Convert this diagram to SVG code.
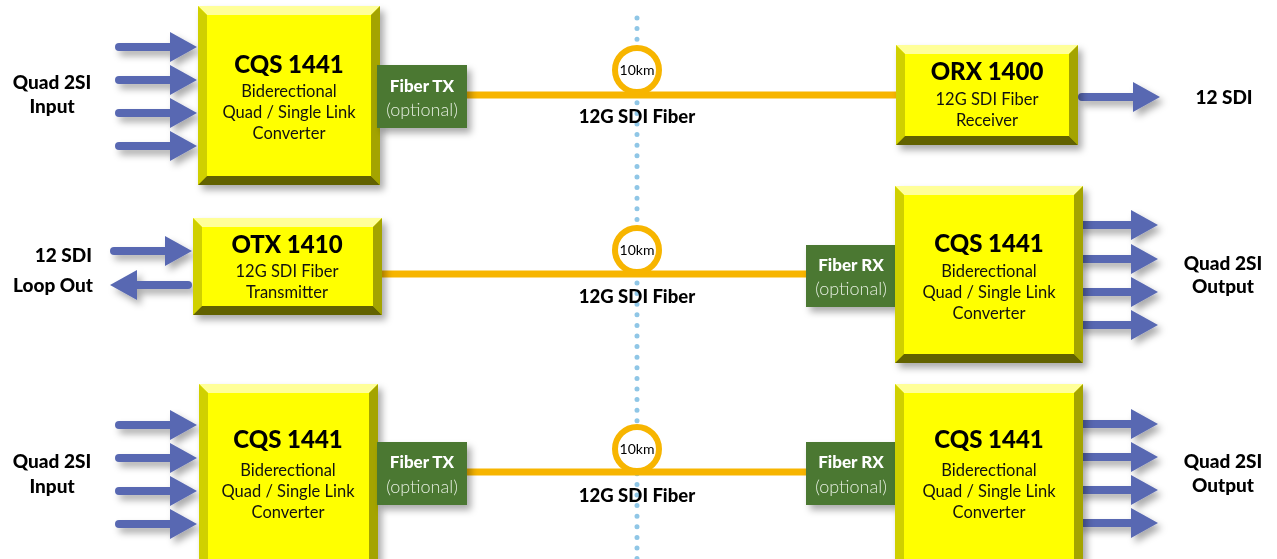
<svg xmlns="http://www.w3.org/2000/svg" xmlns:xlink="http://www.w3.org/1999/xlink" width="1277" height="559" viewBox="0 0 1277 559">
<style>
.title{font-family:Lato,"Liberation Sans",sans-serif;font-weight:900;font-size:24px;fill:#000;text-anchor:middle}
.sub{font-family:Lato,"Liberation Sans",sans-serif;font-size:16.5px;fill:#111;text-anchor:middle}
.gt{font-family:Lato,"Liberation Sans",sans-serif;font-weight:900;font-size:17px;fill:#fff;text-anchor:middle}
.go{font-family:Lato,"Liberation Sans",sans-serif;font-weight:300;font-size:18px;fill:#e6eee0;text-anchor:middle}
.lbl{font-family:Lato,"Liberation Sans",sans-serif;font-weight:900;font-size:19px;fill:#000;text-anchor:middle}
.lblr{font-family:Lato,"Liberation Sans",sans-serif;font-weight:900;font-size:19px;fill:#000;text-anchor:end}
.fib{font-family:Lato,"Liberation Sans",sans-serif;font-weight:900;font-size:18.5px;fill:#000;text-anchor:middle}
.km{font-family:Lato,"Liberation Sans",sans-serif;font-size:14px;fill:#000;text-anchor:middle}
.fiber{stroke:#f7b500;stroke-width:7;fill:none}
.ring{stroke:#f7b500;stroke-width:6;fill:#fff}
.green{fill:#4b7832}
.bc{fill:#ffff00}
.bt{fill:#ffff99}
.bl{fill:#d0d000}
.br{fill:#a4a400}
.bb{fill:#626200}
</style>
<defs>
<filter id="sh" x="-20%" y="-20%" width="140%" height="140%">
<feDropShadow dx="4" dy="5" stdDeviation="3.5" flood-color="#000" flood-opacity="0.33"/>
</filter>
<g id="arr">
<line x1="4" y1="0" x2="58" y2="0" stroke="#5868b2" stroke-width="8" stroke-linecap="round"/>
<polygon points="55,-15 82,0 55,15" fill="#5868b2"/>
</g>
</defs>

<!-- dotted divider -->
<line x1="637" y1="18" x2="637" y2="559" stroke="#8fc6e6" stroke-width="5" stroke-linecap="round" stroke-dasharray="0 10.6"/>

<g id="connectors">
<line class="fiber" x1="467" y1="95" x2="898" y2="95"/>
<line class="fiber" x1="382" y1="274" x2="808" y2="274"/>
<line class="fiber" x1="467" y1="472" x2="808" y2="472"/>
<g filter="url(#sh)">
<use xlink:href="#arr" transform="translate(115,47)"/>
<use xlink:href="#arr" transform="translate(115,80)"/>
<use xlink:href="#arr" transform="translate(115,113)"/>
<use xlink:href="#arr" transform="translate(115,146)"/>
<use xlink:href="#arr" transform="translate(1078,97)"/>
<use xlink:href="#arr" transform="translate(110,251)"/>
<use xlink:href="#arr" transform="translate(192,285) scale(-1,1)"/>
<use xlink:href="#arr" transform="translate(1076,225)"/>
<use xlink:href="#arr" transform="translate(1076,259)"/>
<use xlink:href="#arr" transform="translate(1076,292)"/>
<use xlink:href="#arr" transform="translate(1076,325)"/>
<use xlink:href="#arr" transform="translate(115,425)"/>
<use xlink:href="#arr" transform="translate(115,458)"/>
<use xlink:href="#arr" transform="translate(115,491)"/>
<use xlink:href="#arr" transform="translate(115,524)"/>
<use xlink:href="#arr" transform="translate(1076,424)"/>
<use xlink:href="#arr" transform="translate(1076,457)"/>
<use xlink:href="#arr" transform="translate(1076,490)"/>
<use xlink:href="#arr" transform="translate(1076,523)"/>
</g>
</g>

<g id="ring1"><circle class="ring" cx="637" cy="70" r="22"/><text class="km" x="637" y="75">10km</text></g>
<g id="ring2"><circle class="ring" cx="637" cy="250" r="22"/><text class="km" x="637" y="255">10km</text></g>
<g id="ring3"><circle class="ring" cx="637" cy="449" r="22"/><text class="km" x="637" y="454">10km</text></g>

<text class="fib" x="637" y="123">12G SDI Fiber</text>
<text class="fib" x="637" y="303">12G SDI Fiber</text>
<text class="fib" x="637" y="502">12G SDI Fiber</text>

<!-- Row 1 -->
<g id="in1">
<text class="lbl" x="52" y="89">Quad 2SI</text>
<text class="lbl" x="52" y="113">Input</text>
</g>
<g id="cqs1">
<g filter="url(#sh)">
<rect class="bc" x="198" y="6" width="182" height="179"/>
</g>
<polygon class="bt" points="198,6 380,6 371,15 207,15"/>
<polygon class="bl" points="198,6 207,15 207,176 198,185"/>
<polygon class="br" points="380,6 380,185 371,176 371,15"/>
<polygon class="bb" points="198,185 207,176 371,176 380,185"/>
<text class="title" x="289" y="73">CQS 1441</text>
<text class="sub" x="289" y="97">Biderectional</text>
<text class="sub" x="289" y="118">Quad / Single Link</text>
<text class="sub" x="289" y="139">Converter</text>
</g>
<g id="tx1">
<rect class="green" x="377" y="65" width="90" height="63" filter="url(#sh)"/>
<text class="gt" x="422" y="92">Fiber TX</text>
<text class="go" x="422" y="116">(optional)</text>
</g>
<g id="orx">
<g filter="url(#sh)">
<rect class="bc" x="896" y="45" width="182" height="100"/>
</g>
<polygon class="bt" points="896,45 1078,45 1069,54 905,54"/>
<polygon class="bl" points="896,45 905,54 905,136 896,145"/>
<polygon class="br" points="1078,45 1078,145 1069,136 1069,54"/>
<polygon class="bb" points="896,145 905,136 1069,136 1078,145"/>
<text class="title" x="987" y="80">ORX 1400</text>
<text class="sub" x="987" y="105">12G SDI Fiber</text>
<text class="sub" x="987" y="126">Receiver</text>
</g>
<g id="out1">
<text class="lbl" x="1224" y="104">12 SDI</text>
</g>

<!-- Row 2 -->
<g id="in2">
<text class="lblr" x="92" y="262">12 SDI</text>
<text class="lblr" x="93" y="292">Loop Out</text>
</g>
<g id="otx">
<g filter="url(#sh)">
<rect class="bc" x="193" y="218" width="189" height="97"/>
</g>
<polygon class="bt" points="193,218 382,218 373,227 202,227"/>
<polygon class="bl" points="193,218 202,227 202,306 193,315"/>
<polygon class="br" points="382,218 382,315 373,306 373,227"/>
<polygon class="bb" points="193,315 202,306 373,306 382,315"/>
<text class="title" x="287" y="253">OTX 1410</text>
<text class="sub" x="287" y="277">12G SDI Fiber</text>
<text class="sub" x="287" y="298">Transmitter</text>
</g>
<g id="rx2">
<rect class="green" x="806" y="245" width="90" height="62" filter="url(#sh)"/>
<text class="gt" x="851" y="271">Fiber RX</text>
<text class="go" x="851" y="295">(optional)</text>
</g>
<g id="cqs2">
<g filter="url(#sh)">
<rect class="bc" x="895" y="186" width="188" height="177"/>
</g>
<polygon class="bt" points="895,186 1083,186 1074,195 904,195"/>
<polygon class="bl" points="895,186 904,195 904,354 895,363"/>
<polygon class="br" points="1083,186 1083,363 1074,354 1074,195"/>
<polygon class="bb" points="895,363 904,354 1074,354 1083,363"/>
<text class="title" x="989" y="252">CQS 1441</text>
<text class="sub" x="989" y="277">Biderectional</text>
<text class="sub" x="989" y="298">Quad / Single Link</text>
<text class="sub" x="989" y="319">Converter</text>
</g>
<g id="out2">
<text class="lbl" x="1223" y="270">Quad 2SI</text>
<text class="lbl" x="1223" y="293">Output</text>
</g>

<!-- Row 3 -->
<g id="in3">
<text class="lbl" x="52" y="468">Quad 2SI</text>
<text class="lbl" x="52" y="493">Input</text>
</g>
<g id="cqs3">
<g filter="url(#sh)">
<rect class="bc" x="199" y="384" width="179" height="185"/>
</g>
<polygon class="bt" points="199,384 378,384 369,393 208,393"/>
<polygon class="bl" points="199,384 208,393 208,569 199,569"/>
<polygon class="br" points="378,384 378,569 369,569 369,393"/>
<text class="title" x="288" y="448">CQS 1441</text>
<text class="sub" x="288" y="476">Biderectional</text>
<text class="sub" x="288" y="497">Quad / Single Link</text>
<text class="sub" x="288" y="518">Converter</text>
</g>
<g id="tx3">
<rect class="green" x="377" y="442" width="90" height="63" filter="url(#sh)"/>
<text class="gt" x="422" y="468">Fiber TX</text>
<text class="go" x="422" y="493">(optional)</text>
</g>
<g id="rx3">
<rect class="green" x="806" y="442" width="90" height="63" filter="url(#sh)"/>
<text class="gt" x="851" y="468">Fiber RX</text>
<text class="go" x="851" y="493">(optional)</text>
</g>
<g id="cqs4">
<g filter="url(#sh)">
<rect class="bc" x="895" y="384" width="188" height="185"/>
</g>
<polygon class="bt" points="895,384 1083,384 1074,393 904,393"/>
<polygon class="bl" points="895,384 904,393 904,569 895,569"/>
<polygon class="br" points="1083,384 1083,569 1074,569 1074,393"/>
<text class="title" x="989" y="448">CQS 1441</text>
<text class="sub" x="989" y="476">Biderectional</text>
<text class="sub" x="989" y="497">Quad / Single Link</text>
<text class="sub" x="989" y="518">Converter</text>
</g>
<g id="out3">
<text class="lbl" x="1223" y="468">Quad 2SI</text>
<text class="lbl" x="1223" y="492">Output</text>
</g>
</svg>
